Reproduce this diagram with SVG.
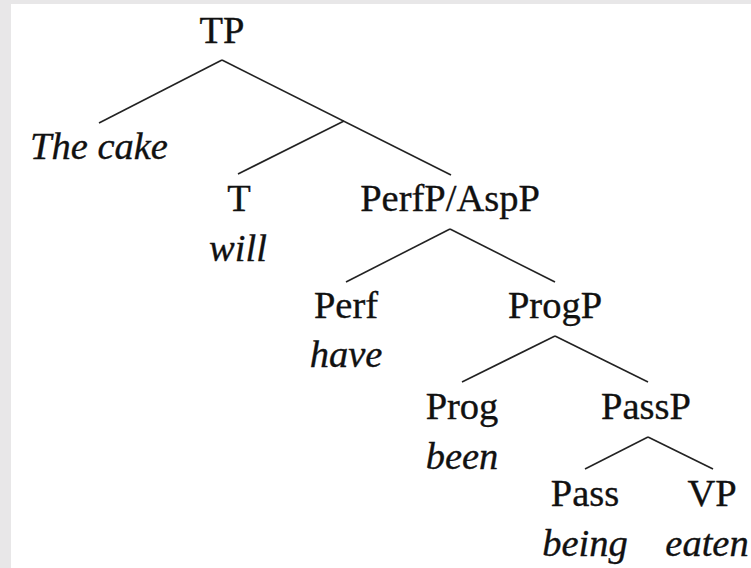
<svg xmlns="http://www.w3.org/2000/svg" width="751" height="568" viewBox="0 0 751 568">
<style>
.lbl{font-family:"Liberation Serif","Times New Roman",serif;font-size:38.5px;fill:#111;stroke:#111;stroke-width:0.35;text-anchor:middle}
.it{font-style:italic}
.edge{stroke:#222;stroke-width:1.6;fill:none;stroke-linecap:butt}
</style>
<rect x="0" y="0" width="751" height="568" fill="#e8e7e8"/>
<rect x="11" y="4" width="740" height="564" fill="#ffffff"/>
<g id="connectors">
<line class="edge" x1="222" y1="60" x2="99" y2="123"/>
<line class="edge" x1="222" y1="60" x2="451" y2="175"/>
<line class="edge" x1="344" y1="121" x2="238" y2="174"/>
<line class="edge" x1="450" y1="229" x2="346" y2="282"/>
<line class="edge" x1="450" y1="229" x2="555" y2="282"/>
<line class="edge" x1="555" y1="336" x2="462" y2="382"/>
<line class="edge" x1="555" y1="336" x2="648" y2="382"/>
<line class="edge" x1="648" y1="437" x2="585" y2="469"/>
<line class="edge" x1="648" y1="437" x2="713" y2="469"/>
</g>
<g id="TP"><text class="lbl" x="222" y="43">TP</text></g>
<g id="TheCake"><text class="lbl it" x="99" y="159">The cake</text></g>
<g id="T"><text class="lbl" x="239" y="211">T</text><text class="lbl it" x="238" y="261">will</text></g>
<g id="PerfP"><text class="lbl" x="450" y="211">PerfP/AspP</text></g>
<g id="Perf"><text class="lbl" x="346" y="318">Perf</text><text class="lbl it" x="346" y="367">have</text></g>
<g id="ProgP"><text class="lbl" x="555" y="318">ProgP</text></g>
<g id="Prog"><text class="lbl" x="462" y="419">Prog</text><text class="lbl it" x="462" y="469">been</text></g>
<g id="PassP"><text class="lbl" x="646" y="419">PassP</text></g>
<g id="Pass"><text class="lbl" x="585" y="506">Pass</text><text class="lbl it" x="585" y="556">being</text></g>
<g id="VP"><text class="lbl" x="712" y="506">VP</text><text class="lbl it" x="707" y="556">eaten</text></g>
</svg>
